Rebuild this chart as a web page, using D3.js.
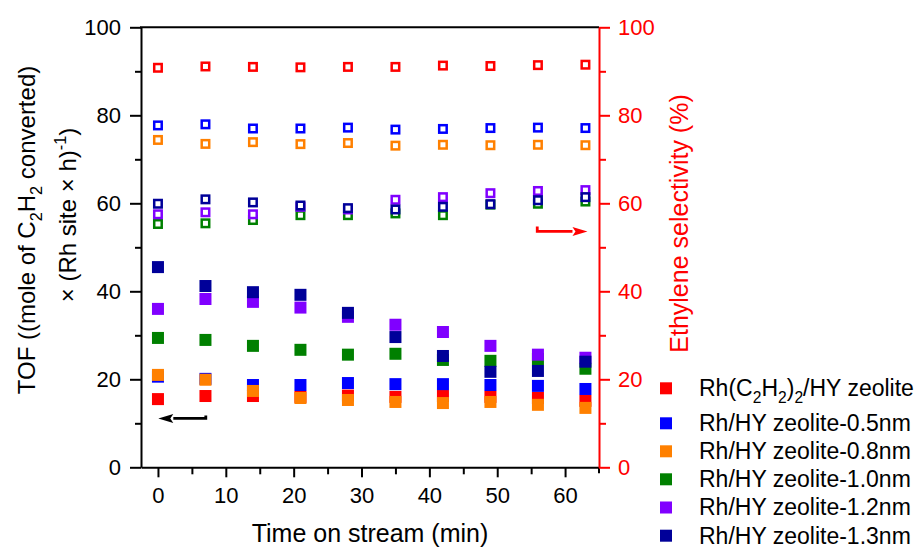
<!DOCTYPE html>
<html>
<head>
<meta charset="utf-8">
<script src="https://cdn.jsdelivr.net/npm/d3@7"></script>
<style>
  body { margin: 0; background: #fff; }
  svg { display: block; font-family: "Liberation Sans", Arial, Helvetica, sans-serif; }
</style>
</head>
<body>
<svg id="chart" width="919" height="547"></svg>
<script>
// ---- data ----
const times = [0, 7, 14, 21, 28, 35, 42, 49, 56, 63];

const seriesLabels = [
  "Rh(C_2H_2)_2/HY zeolite",
  "Rh/HY zeolite-0.5nm",
  "Rh/HY zeolite-0.8nm",
  "Rh/HY zeolite-1.0nm",
  "Rh/HY zeolite-1.2nm",
  "Rh/HY zeolite-1.3nm"
];
const seriesColors = ["#ff0000", "#0000ff", "#ff8000", "#008000", "#8000ff", "#000099"];

// TOF, (mol C2H2 converted)/(Rh site x h)  -- filled squares, left axis
const tofRhC2H2 = [15.5, 16.2, 16.2, 16.0, 16.3, 16.0, 16.2, 16.0, 15.75, 15.1];
const tof05nm   = [20.6, 20.1, 18.7, 18.7, 19.15, 18.9, 18.9, 18.7, 18.5, 17.8];
const tof08nm   = [21.0, 19.9, 17.35, 15.75, 15.3, 14.85, 14.6, 14.85, 14.2, 13.5];
const tof10nm   = [29.4, 28.95, 27.6, 26.7, 25.6, 25.8, 24.4, 24.2, 24.6, 22.4];
const tof12nm   = [36.0, 38.25, 37.6, 36.3, 34.2, 32.4, 30.75, 27.6, 25.6, 24.9];
const tof13nm   = [45.5, 41.2, 39.8, 39.2, 35.1, 29.6, 25.3, 21.7, 21.9, 24.0];

// Ethylene selectivity, %  -- open squares, right axis
const selRhC2H2 = [90.8, 91.1, 91.0, 90.9, 91.0, 91.0, 91.3, 91.2, 91.4, 91.5];
const sel05nm   = [77.7, 77.95, 77.0, 77.0, 77.2, 76.75, 76.9, 77.1, 77.2, 77.1];
const sel08nm   = [74.4, 73.5, 73.9, 73.45, 73.7, 73.1, 73.3, 73.2, 73.3, 73.2];
const sel10nm   = [55.3, 55.45, 56.2, 57.3, 57.3, 57.7, 57.3, 59.7, 59.9, 60.4];
const sel12nm   = [57.5, 57.95, 57.5, 59.2, 58.6, 60.8, 61.4, 62.3, 62.8, 63.0];
const sel13nm   = [59.9, 60.9, 60.2, 59.5, 58.9, 58.6, 59.2, 59.8, 60.7, 61.4];

const tofSeries = [tofRhC2H2, tof05nm, tof08nm, tof10nm, tof12nm, tof13nm];
const selSeries = [selRhC2H2, sel05nm, sel08nm, sel10nm, sel12nm, sel13nm];

const xMajorTicks = [0, 10, 20, 30, 40, 50, 60];
const xMinorTicks = [5, 15, 25, 35, 45, 55];
const yMajorTicks = [0, 20, 40, 60, 80, 100];
const yMinorTicks = [10, 30, 50, 70, 90];

// ---- layout ----
const svg = d3.select("#chart");
const plot = { left: 141, right: 599, top: 27.3, bottom: 467.3 };

const x = d3.scaleLinear().domain([-2.5, 65]).range([plot.left, plot.right]);
const yTof = d3.scaleLinear().domain([0, 100]).range([plot.bottom, plot.top]);
const ySel = d3.scaleLinear().domain([0, 100]).range([plot.bottom, plot.top]);

// text with _x / _{..} subscripts and ^x / ^{..} superscripts
function richText(textSel, str, size) {
  const parts = str.split(/(_\{[^}]*\}|_.|\^\{[^}]*\}|\^.)/).filter(s => s.length);
  let offset = 0;
  parts.forEach(p => {
    let kind = 0, content = p;
    if (p[0] === "_" ) { kind = 1; content = p.slice(1); }
    if (p[0] === "^" ) { kind = -1; content = p.slice(1); }
    if (kind !== 0 && content[0] === "{") content = content.slice(1, -1);
    const target = kind === 1 ? 0.28 * size : kind === -1 ? -0.42 * size : 0;
    const t = textSel.append("tspan").attr("dy", target - offset).text(content);
    if (kind !== 0) t.attr("font-size", 0.68 * size);
    offset = target;
  });
}

// ---- axes ----
function styleAxis(g, color, fontSize) {
  g.select(".domain").attr("stroke", color).attr("stroke-width", 2);
  g.selectAll(".tick line").attr("stroke", color).attr("stroke-width", 2);
  g.selectAll(".tick text").attr("fill", color).attr("font-size", fontSize)
    .attr("font-family", "Liberation Sans, Arial, sans-serif");
}

// bottom
const gxMinor = svg.append("g").attr("transform", `translate(0,${plot.bottom})`)
  .call(d3.axisBottom(x).tickValues(xMinorTicks).tickSize(7).tickFormat(""));
gxMinor.select(".domain").remove();
styleAxis(gxMinor, "#000", 22);
const gx = svg.append("g").attr("transform", `translate(0,${plot.bottom})`)
  .call(d3.axisBottom(x).tickValues(xMajorTicks).tickSize(10).tickPadding(10).tickSizeOuter(0));
styleAxis(gx, "#000", 22);
svg.append("line").attr("x1", plot.right).attr("x2", plot.right)
  .attr("y1", plot.bottom).attr("y2", plot.bottom + 6)
  .attr("stroke", "#000").attr("stroke-width", 2);

// top frame
svg.append("line").attr("x1", plot.left - 1).attr("x2", plot.right)
  .attr("y1", plot.top).attr("y2", plot.top).attr("stroke", "#000").attr("stroke-width", 2);

// left
const gyMinor = svg.append("g").attr("transform", `translate(${plot.left},0)`)
  .call(d3.axisLeft(yTof).tickValues(yMinorTicks).tickSize(6).tickFormat(""));
gyMinor.select(".domain").remove();
styleAxis(gyMinor, "#000", 22);
const gy = svg.append("g").attr("transform", `translate(${plot.left},0)`)
  .call(d3.axisLeft(yTof).tickValues(yMajorTicks).tickSize(11).tickPadding(9).tickSizeOuter(0));
styleAxis(gy, "#000", 22);

// right
const gy2Minor = svg.append("g").attr("transform", `translate(${plot.right},0)`)
  .call(d3.axisRight(ySel).tickValues(yMinorTicks).tickSize(7).tickFormat(""));
gy2Minor.select(".domain").remove();
styleAxis(gy2Minor, "#ff0000", 22);
const gy2 = svg.append("g").attr("transform", `translate(${plot.right},0)`)
  .call(d3.axisRight(ySel).tickValues(yMajorTicks).tickSize(11).tickPadding(8).tickSizeOuter(0));
styleAxis(gy2, "#ff0000", 22);

// ---- axis titles ----
svg.append("text").attr("x", (plot.left + plot.right) / 2).attr("y", 542)
  .attr("text-anchor", "middle").attr("font-size", 25).attr("fill", "#000")
  .text("Time on stream (min)");

const yTitle1 = svg.append("text").attr("transform", "translate(35,230) rotate(-90)")
  .attr("text-anchor", "middle").attr("font-size", 24).attr("fill", "#000");
richText(yTitle1, "TOF ((mole of C_2H_2 converted)", 24);
const yTitle2 = svg.append("text").attr("transform", "translate(76,215) rotate(-90)")
  .attr("text-anchor", "middle").attr("font-size", 24).attr("fill", "#000");
richText(yTitle2, "\u00d7 (Rh site \u00d7 h)^{-1})", 24);

svg.append("text").attr("transform", "translate(688,223.5) rotate(-90)")
  .attr("text-anchor", "middle").attr("font-size", 25).attr("fill", "#ff0000")
  .text("Ethylene selectivity (%)");

// ---- markers ----
const filledSize = 12, openSize = 7.5;
tofSeries.forEach((vals, i) => {
  svg.append("g").selectAll("rect").data(vals).join("rect")
    .attr("x", (d, j) => x(times[j]) - filledSize / 2)
    .attr("y", d => yTof(d) - filledSize / 2)
    .attr("width", filledSize).attr("height", filledSize)
    .attr("fill", seriesColors[i]);
});
selSeries.forEach((vals, i) => {
  svg.append("g").selectAll("rect").data(vals).join("rect")
    .attr("x", (d, j) => x(times[j]) - openSize / 2)
    .attr("y", d => ySel(d) - openSize / 2)
    .attr("width", openSize).attr("height", openSize)
    .attr("fill", "#fff").attr("stroke", seriesColors[i]).attr("stroke-width", 2.5);
});

// ---- axis-pointing arrows ----
function axisArrow(x0, x1, yv, hookUp, color) {
  const ax = x(x0), bx = x(x1), ay = yTof(yv);
  const dir = Math.sign(bx - ax), head = 15, half = 4.5;
  svg.append("path")
    .attr("d", `M${ax},${ay - hookUp}V${ay}H${bx - dir * head}`)
    .attr("fill", "none").attr("stroke", color).attr("stroke-width", 2.8);
  svg.append("path")
    .attr("d", `M${bx},${ay}L${bx - dir * head},${ay - half}L${bx - dir * (head - 3)},${ay}L${bx - dir * head},${ay + half}Z`)
    .attr("fill", color);
}
axisArrow(55.9, 63.3, 53.6, 5, "#ff0000");
axisArrow(7.05, 0.05, 11.1, 3, "#000");

// ---- legend ----
const legendRowY = [388.3, 423.3, 451.3, 479.3, 507.5, 535.7];
seriesLabels.forEach((lab, i) => {
  const cy = legendRowY[i];
  svg.append("rect").attr("x", 660).attr("y", cy - 6).attr("width", 12).attr("height", 12)
    .attr("fill", seriesColors[i]);
  const t = svg.append("text").attr("x", 699).attr("y", cy + 7.8)
    .attr("font-size", 23).attr("fill", "#000");
  richText(t, lab, 23);
});
</script>
</body>
</html>
